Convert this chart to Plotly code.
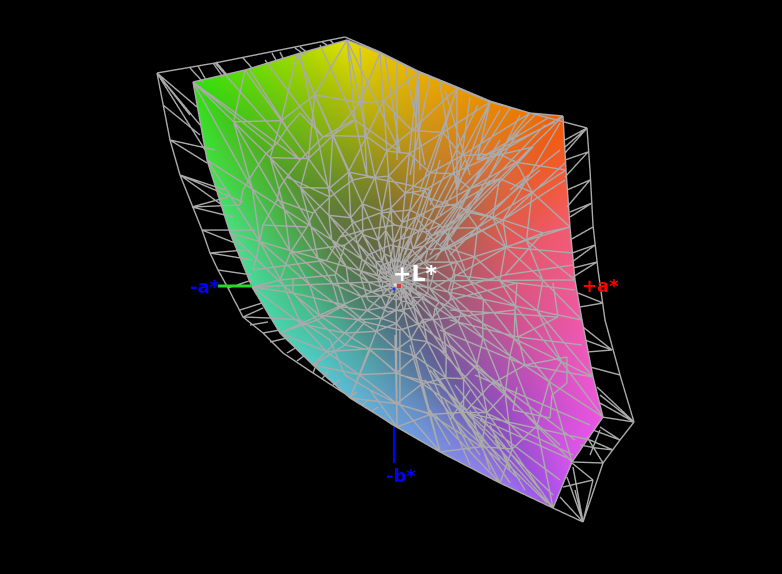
import plotly.graph_objects as go

WIDTH, HEIGHT = 782, 574
CENTER = (396, 281)
CENTER_COLOR = "#5e5a52"
FILL_X = [193,245,297,347,380,418,457,490,530,563,566,570,575,582,593,603,572,553,500,440,397,350,313,280,252,230,207]
FILL_Y = [82,70,54,40,53,72,88,102,113,116,170,227,280,320,377,417,462,508,483,452,427,398,365,333,287,233,160]
SHELL_X = [157,215,285,345,380,418,457,490,530,587,590,593,598,605,620,634,620,603,583,553,500,440,393,370,313,283,263,243,228,218,210,202,180,170]
SHELL_Y = [73,63,49,37,52,71,87,101,113,128,170,225,270,320,375,422,440,463,522,508,483,452,425,410,373,353,333,317,288,270,253,230,175,140]
OUTER_COLORS = ["#30e010","#60dc06","#a4d800","#e6e000","#e6c800","#e8b000","#e89c00","#e88a00","#ee7400","#f55a05","#f55a30","#f55a70","#f05a90","#f058a8","#ee58cc","#ee55e0","#d855ec","#a850f0","#9a78f0","#7a90ea","#6aa0dc","#60b8d8","#50ccc8","#48d4b0","#48d8a0","#48e080","#40e040"]
MID_COLORS = ["#50b020","#68b01a","#8cb012","#b0ae10","#b8a010","#c09418","#c88420","#d07a28","#d87035","#de6838","#e06040","#e05860","#dc5678","#d85488","#d052a0","#c850b8","#a84cc0","#8a4cc0","#7064b8","#6080b0","#5890b0","#50a4a8","#48b0a0","#46b890","#46b878","#48b860","#48b840"]
INNER_COLORS = ["#5f7a3a","#657a35","#6c7a30","#78782e","#80752e","#8a7030","#957035","#9a6a3a","#a06645","#a56550","#a86055","#aa5c60","#a85a68","#a55a72","#a05a82","#985a8e","#8a5a95","#7a5a9a","#605e90","#556a8c","#506e85","#4d7a80","#4a7e72","#4c8065","#50805a","#567d48","#5a7c40"]
WIRE_FRACTIONS = [
 [.05,.04,.06,.05,.04,.06,.05,.06,.05,.04,.06,.05,.04,.06,.05,.06,.04,.06,.05,.06,.04,.06,.05,.06,.04,.06,.05],
 [.10,.09,.12,.10,.08,.11,.09,.12,.10,.09,.12,.10,.09,.11,.10,.12,.09,.11,.10,.12,.09,.11,.10,.12,.09,.11,.10],
 [.19,.22,.18,.21,.17,.20,.23,.18,.21,.19,.17,.22,.20,.18,.22,.19,.21,.17,.22,.18,.20,.22,.18,.21,.19,.22,.18],
 [.33,.30,.34,.29,.32,.28,.33,.30,.27,.32,.30,.35,.31,.28,.33,.30,.27,.32,.30,.34,.29,.32,.35,.30,.33,.30,.34],
 [.47,.44,.48,.43,.46,.42,.47,.41,.46,.42,.48,.45,.41,.47,.44,.42,.46,.43,.48,.44,.47,.43,.46,.49,.44,.47,.45],
 [.62,.58,.64,.60,.57,.61,.56,.60,.55,.62,.57,.63,.58,.64,.60,.55,.62,.58,.65,.60,.63,.58,.62,.66,.60,.64,.59],
 [.80,.76,.82,.74,.79,.72,.77,.70,.76,.72,.80,.75,.82,.76,.84,.74,.80,.74,.82,.78,.84,.80,.84,.82,.78,.82,.76],
]
POLYLINES = [
 [(243,190),(247,183),(255,170),(265,155),(277,143),(287,128),(300,113),(323,137),(353,120)],
 [(240,205),(243,190)],
 [(253,270),(257,255),(263,225),(277,200),(280,187),(287,177),(300,160),(323,137),(333,135),(355,120),(400,152)],
 [(280,280),(290,253),(307,227),(313,213),(330,197),(353,180),(367,177),(400,183),(430,190)],
 [(327,260),(340,237),(353,223),(380,213),(410,210),(440,225),(455,245),(465,270)],
 [(335,275),(345,245),(365,230),(395,225),(425,232),(445,250),(455,275),(450,300),(430,320),(400,330),(365,322),(345,305),(335,275)],
 [(360,275),(368,255),(390,245),(412,250),(428,268),(428,292),(412,308),(388,312),(368,300),(360,275)],
 [(378,280),(382,265),(396,260),(410,266),(414,280),(410,294),(396,300),(384,295),(378,280)],
 [(517,283),(515,310),(518,337),(525,365),(490,385),(467,410)],
 [(553,283),(558,317),(518,337)],
 [(517,387),(513,410),(550,418),(552,395),(567,383),(567,357),(525,365)],
 [(503,220),(507,247),(543,233),(503,220)],
 [(543,233),(570,227)],
 [(507,247),(573,253)],
 [(293,278),(293,293),(317,320),(345,345),(370,350),(400,375),(440,385),(467,410)],
 [(270,318),(300,320),(330,340),(345,375),(370,390),(400,405),(435,415)],
]
GAP_SEGMENTS = [
 (157,73,197,107),(157,73,200,125),(157,73,205,150),(157,73,190,115),(163,105,200,135),(170,140,207,163),(170,140,215,150),
 (180,175,243,202),(180,175,225,190),(180,175,222,205),(192,207,240,205),(192,207,233,217),(192,207,228,197),(202,230,255,230),
 (202,230,240,245),(210,253,253,260),(210,253,245,250),(218,270,252,275),(228,288,252,280),
 (190,68,203,82),(198,66,206,80),(213,63,223,77),(216,62,228,76),(243,58,252,68),(272,53,277,62),(280,52,284,60),
 (295,48,305,55),(300,47,308,53),(322,42,327,45),(330,40,334,44),
 (587,128,565,140),(587,128,565,147),(587,128,565,153),(588,152,565,160),(588,152,565,177),(590,180,567,190),(590,180,567,207),
 (592,203,570,217),(592,203,570,212),(593,227,570,240),(595,245,572,253),(595,245,572,262),(597,262,573,277),(597,262,573,268),
 (603,303,578,293),(603,303,580,307),(612,350,583,327),(612,350,587,352),(612,350,585,340),(620,375,590,367),
 (634,422,597,387),(634,422,600,403),(634,422,602,417),(634,422,600,395),(620,440,593,430),(620,440,600,427),(613,450,590,440),
 (603,463,573,462),(603,463,587,437),(593,480,572,463),(593,480,563,487),(583,522,553,508),(583,522,560,497),(583,522,567,477),
 (583,522,573,467),(583,522,593,480),(583,522,575,490),(613,450,596,448),(596,448,580,445),(590,455,600,430),
 (243,317,263,308),(243,317,270,318),(240,310,262,303),(250,325,268,322),(263,333,280,330),(270,342,287,338),(287,353,297,347),
 (297,361,305,355),(313,373,317,363),(322,379,328,371),(333,385,340,380),(350,397,357,392),(362,405,368,400),(372,411,378,407),
]
LONG_SEGMENTS = [
 (193,82,273,147),(193,82,300,160),(215,63,300,160),(250,70,287,128),(297,54,333,135),(320,45,355,120),(347,40,355,120),(347,40,400,152),
 (265,60,323,137),(300,53,330,197),(360,48,367,177),(385,55,400,152),(397,63,397,160),(418,72,420,170),(418,72,413,193),
 (440,83,457,190),(457,88,457,190),(470,97,457,190),(490,102,457,190),(490,102,477,160),(510,108,477,160),(535,115,460,190),
 (555,122,477,160),(548,118,477,160),(533,147,477,160),(533,147,440,245),(520,130,440,250),(545,125,440,235),(500,140,430,255),
 (503,220,565,180),(503,220,565,163),(503,220,560,123),(503,220,440,250),(503,220,455,245),(507,247,430,290),(457,207,503,220),
 (457,207,413,193),(457,190,457,207),(413,193,400,260),(457,207,420,260),(430,190,405,255),
 (543,233,505,275),(505,275,573,265),(505,275,450,290),(517,283,575,290),(517,283,450,300),(558,317,450,310),(518,337,450,320),
 (518,337,582,345),(525,365,593,377),(525,365,440,330),(500,385,420,325),
 (467,413,553,508),(470,427,547,503),(467,413,572,460),(467,413,590,440),(433,370,470,427),(470,405,573,455),(480,420,560,480),
 (440,385,553,495),(455,385,540,490),(433,370,510,483),(420,350,470,465),(410,345,440,452),(395,335,397,427),(370,350,350,398),
 (345,345,313,365),(317,320,280,333),(370,390,397,427),(400,405,440,452),(435,415,500,483),(400,375,400,405),
 (293,293,252,287),(280,280,252,287),(345,305,293,293),(335,275,280,280),(327,260,253,270),(307,227,263,225),(313,213,277,200),
 (330,197,287,177),(353,180,333,135),(367,177,355,120),(345,245,290,253),(365,230,340,237),(395,225,380,213),(425,232,440,225),
 (445,250,455,245),(455,275,517,283),(450,300,517,283),(430,320,515,310),(400,330,400,375),(365,322,345,345),(345,305,317,320),
 (455,95,420,190),(478,105,430,205),(500,110,440,215),(430,78,410,175),(405,65,425,165),(445,90,470,175),(520,115,490,175),
 (480,170,445,240),(490,180,435,260),(465,160,425,240),(440,160,415,245),(525,180,450,255),(540,170,480,220),(560,150,510,190),
 (450,420,470,390),(470,450,445,400),(490,470,470,410),(510,470,490,425),(525,490,495,440),(430,410,450,445),(455,420,520,480),
 (430,370,500,460),(425,380,480,455),(440,350,525,440),(450,345,560,445),(460,355,575,440),(475,375,590,425),
]
AXIS_X = [218,252]
AXIS_Y = [286,286]
BLUE_AXIS_X = [394,394]
BLUE_AXIS_Y = [427,463]
MARK_X = [395,399,394]
MARK_Y = [285,286,289]
MARK_COLORS = ["#ffffee","#ff0000","#0000ff"]
LABELS = [("+L*", 415, 273, "#ffffff", 22), ("-a*", 205, 286, "#0000ff", 18), ("+a*", 600, 285, "#ff0000", 18), ("-b*", 401, 475, "#0000ff", 18)]

def py(v):
    return HEIGHT - v

n = len(FILL_X)
cx, cy = CENTER
def ring_point(j, f):
    return cx + f * (FILL_X[j] - cx), cy + f * (FILL_Y[j] - cy)

vx, vy, vc = [cx], [py(cy)], [CENTER_COLOR]
for f, colors in ((1/3, INNER_COLORS), (2/3, MID_COLORS), (1.0, OUTER_COLORS)):
    for j in range(n):
        x, y = ring_point(j, f)
        vx.append(x); vy.append(py(y)); vc.append(colors[j])
ii, jj, kk = [], [], []
for j in range(n):
    a, b = 1 + j, 1 + (j + 1) % n
    ii.append(0); jj.append(a); kk.append(b)
for r in range(2):
    for j in range(n):
        a = 1 + r * n + j
        b = 1 + r * n + (j + 1) % n
        c = 1 + (r + 1) * n + j
        d = 1 + (r + 1) * n + (j + 1) % n
        ii += [a, b]; jj += [c, c]; kk += [b, d]

wx, wy = [], []
def seg(x0, y0, x1, y1):
    wx.extend([x0, x1, None]); wy.extend([py(y0), py(y1), None])
rings = [[ring_point(j, row[j]) for j in range(n)] for row in WIRE_FRACTIONS]
rings.append([(FILL_X[j], FILL_Y[j]) for j in range(n)])
for j in range(n):
    seg(cx, cy, *rings[0][j])
for r, ring in enumerate(rings):
    for j in range(n):
        seg(*ring[j], *ring[(j + 1) % n])
        if r + 1 < len(rings):
            seg(*ring[j], *rings[r + 1][j])
            seg(*ring[j], *rings[r + 1][(j + 1) % n])
m = len(SHELL_X)
for j in range(m):
    seg(SHELL_X[j], SHELL_Y[j], SHELL_X[(j + 1) % m], SHELL_Y[(j + 1) % m])
for s in GAP_SEGMENTS + LONG_SEGMENTS:
    seg(*s)
for line in POLYLINES:
    for p, q in zip(line[:-1], line[1:]):
        seg(*p, *q)

fig = go.Figure()
fig.add_trace(go.Mesh3d(x=vx, y=vy, z=[0] * len(vx), i=ii, j=jj, k=kk, vertexcolor=vc,
                        lighting=dict(ambient=1, diffuse=0, specular=0, roughness=1, fresnel=0),
                        hoverinfo="skip", showscale=False))
fig.add_trace(go.Scatter3d(x=wx, y=wy, z=[1 if v is not None else None for v in wx], mode="lines",
                           line=dict(color="#aaaaaa", width=2.8), hoverinfo="skip", showlegend=False))
fig.add_trace(go.Scatter3d(x=AXIS_X, y=[py(v) for v in AXIS_Y], z=[2, 2], mode="lines",
                           line=dict(color="#22dd22", width=6), hoverinfo="skip", showlegend=False))
fig.add_trace(go.Scatter3d(x=BLUE_AXIS_X, y=[py(v) for v in BLUE_AXIS_Y], z=[2, 2], mode="lines",
                           line=dict(color="#0000ff", width=4), hoverinfo="skip", showlegend=False))
fig.add_trace(go.Scatter3d(x=MARK_X, y=[py(v) for v in MARK_Y], z=[2, 2, 2], mode="markers",
                           marker=dict(color=MARK_COLORS, size=[3, 4, 3], symbol="square", line=dict(width=0)), hoverinfo="skip", showlegend=False))
ax = dict(visible=False, showgrid=False, zeroline=False, showticklabels=False, title="")
fig.update_layout(
    width=WIDTH, height=HEIGHT, margin=dict(l=0, r=0, t=0, b=0), paper_bgcolor="black", plot_bgcolor="black",
    showlegend=False,
    scene=dict(domain=dict(x=[0, 1], y=[0, 1]), bgcolor="black",
               xaxis=dict(ax, range=[0, WIDTH]), yaxis=dict(ax, range=[0, HEIGHT]), zaxis=dict(ax, range=[-1, 3]),
               aspectmode="manual", aspectratio=dict(x=2 * WIDTH / HEIGHT, y=2, z=0.1),
               camera=dict(projection=dict(type="orthographic"), eye=dict(x=0, y=0, z=1), up=dict(x=0, y=1, z=0), center=dict(x=0, y=0, z=0))),
    annotations=[dict(text="<b>" + t + "</b>", x=x / WIDTH, y=1 - y / HEIGHT, xref="paper", yref="paper", showarrow=False,
                      xanchor="center", yanchor="middle", font=dict(color=c, size=s, family="DejaVu Sans"))
                 for t, x, y, c, s in LABELS],
)
fig.write_html("out.html", config=dict(displayModeBar=False), post_script="document.documentElement.style.background='black';document.body.style.margin='0';document.body.style.background='black';")
